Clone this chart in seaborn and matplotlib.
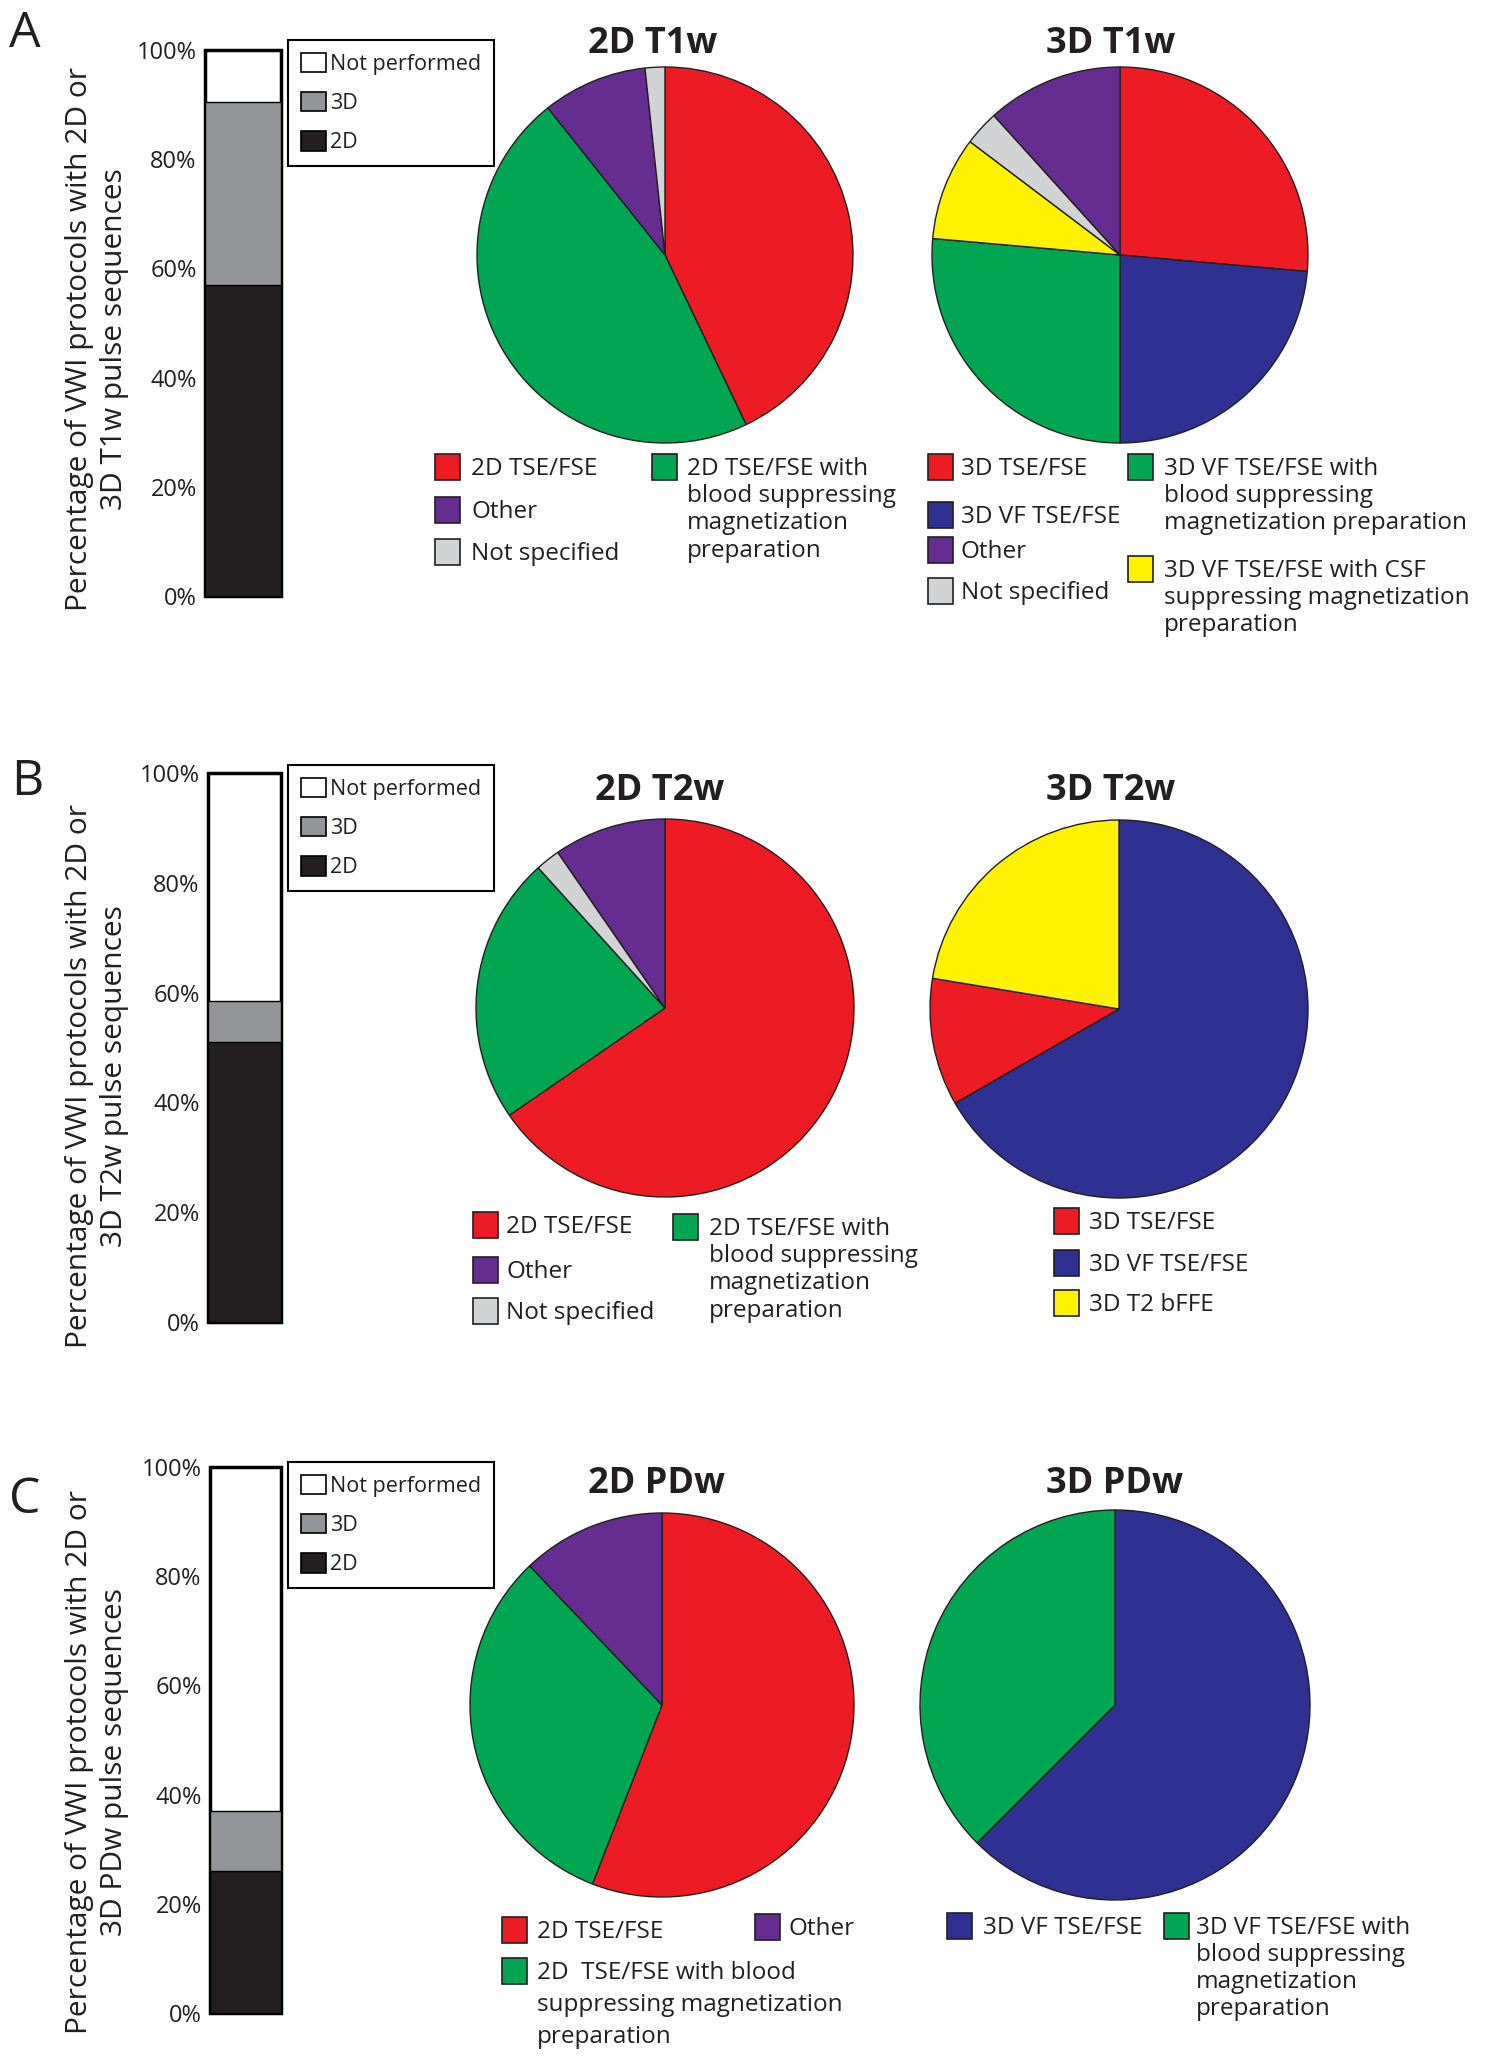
import matplotlib
matplotlib.use('Agg')
import matplotlib.pyplot as plt
from matplotlib.patches import Patch, Rectangle
import pandas as pd
import seaborn as sns

# ---- data (percent) ----
bar_groups = ['2D', '3D', 'Not performed']
bar_t1w = [57.0, 33.5, 9.5]
bar_t2w = [51.0, 7.5, 41.5]
bar_pdw = [26.0, 11.0, 63.0]
bar_ticks = [0, 20, 40, 60, 80, 100]

# pie slices, clockwise from 12 o'clock
pie_2d_t1w_cats = ['2D TSE/FSE', '2D TSE/FSE blood supp.', 'Other', 'Not specified']
pie_2d_t1w = [42.9, 46.4, 9.0, 1.7]
pie_3d_t1w_cats = ['3D TSE/FSE', '3D VF TSE/FSE', '3D VF TSE/FSE blood supp.',
                   '3D VF TSE/FSE CSF supp.', 'Not specified', 'Other']
pie_3d_t1w = [26.4, 23.6, 26.4, 8.9, 3.0, 11.7]
pie_2d_t2w_cats = ['2D TSE/FSE', '2D TSE/FSE blood supp.', 'Not specified', 'Other']
pie_2d_t2w = [65.4, 22.9, 2.1, 9.6]
pie_3d_t2w_cats = ['3D VF TSE/FSE', '3D TSE/FSE', '3D T2 bFFE']
pie_3d_t2w = [66.7, 10.9, 22.4]
pie_2d_pdw_cats = ['2D TSE/FSE', '2D TSE/FSE blood supp.', 'Other']
pie_2d_pdw = [55.9, 32.0, 12.1]
pie_3d_pdw_cats = ['3D VF TSE/FSE', '3D VF TSE/FSE blood supp.']
pie_3d_pdw = [62.5, 37.5]

# ---- colours ----
RED, GREEN, PURPLE = '#ED1C24', '#00A651', '#662D91'
GREY, BLUE, YELLOW = '#D1D3D4', '#2E3192', '#FFF200'
DARK, MID = '#231F20', '#939598'
cat_colors = {
    '2D TSE/FSE': RED, '3D TSE/FSE': RED,
    '2D TSE/FSE blood supp.': GREEN, '3D VF TSE/FSE blood supp.': GREEN,
    'Other': PURPLE, 'Not specified': GREY,
    '3D VF TSE/FSE': BLUE, '3D VF TSE/FSE CSF supp.': YELLOW, '3D T2 bFFE': YELLOW,
}
bar_colors = {'2D': DARK, '3D': MID, 'Not performed': 'white'}

sns.set_style('white')
plt.rcParams['font.family'] = ['Open Sans', 'DejaVu Sans']
plt.rcParams['text.color'] = DARK
plt.rcParams['axes.labelcolor'] = DARK
plt.rcParams['ytick.color'] = DARK

W, H = 1487, 2062
fig = plt.figure(figsize=(W / 100, H / 100), dpi=100)


def px_axes(x0, y0, x1, y1):
    return fig.add_axes([x0 / W, 1 - y1 / H, (x1 - x0) / W, (y1 - y0) / H])


def draw_bar(box, values, ylabel, label_xy, legend_xy):
    ax = px_axes(*box)
    df = pd.DataFrame({'group': bar_groups, 'pct': values})
    df['top'] = df['pct'].cumsum()
    # tallest segment first, lower segments drawn over it
    for _, row in df.iloc[::-1].iterrows():
        lw = 2.5 if row['group'] == 'Not performed' else 1.0
        sns.barplot(x=['all'], y=[row['top']], color=bar_colors[row['group']],
                    saturation=1, width=1, edgecolor='black', linewidth=lw, ax=ax)
    for p in ax.patches:
        p.set_clip_on(False)
    ax.set_xlim(-0.5, 0.5)
    ax.set_ylim(0, 100)
    ax.set_xticks([])
    ax.set_yticks(bar_ticks)
    ax.set_yticklabels([f'{t}%' for t in bar_ticks])
    ax.tick_params(axis='y', length=0, pad=6, labelsize=17)
    sns.despine(ax=ax, left=True, bottom=True)
    ax.set_xlabel('')
    ax.set_ylabel(ylabel, fontsize=21.5, linespacing=1.25, va='center')
    ax.yaxis.set_label_coords(label_xy[0] / W, 1 - label_xy[1] / H, transform=fig.transFigure)
    handles = [Patch(facecolor=bar_colors[g], edgecolor='black', linewidth=1.2)
               for g in bar_groups[::-1]]
    leg = ax.legend(handles, bar_groups[::-1], loc='upper left',
                    bbox_to_anchor=(legend_xy[0] / W, 1 - legend_xy[1] / H),
                    bbox_transform=fig.transFigure, fontsize=15.5, frameon=True,
                    fancybox=False, framealpha=1, edgecolor='black',
                    handlelength=1.15, handleheight=1.0, handletextpad=0.2,
                    borderpad=0.6, labelspacing=0.8, borderaxespad=0)
    leg.get_frame().set_linewidth(1.5)
    return ax


def draw_pie(cx, cy, r, values, cats, title, title_xy):
    s = 1.25 * r
    ax = px_axes(cx - s, cy - s, cx + s, cy + s)
    ax.pie(values, colors=[cat_colors[c] for c in cats], startangle=90,
           counterclock=False, wedgeprops=dict(edgecolor=DARK, linewidth=1))
    ax.set_xlim(-1.25, 1.25)
    ax.set_ylim(-1.25, 1.25)
    fig.text(title_xy[0] / W, 1 - title_xy[1] / H, title, ha='center',
             va='baseline', fontsize=26, fontweight='bold')
    return ax


def key(color, sx, cy, tx, label, ls=1.18):
    fig.patches.append(Rectangle((sx / W, 1 - (cy + 13) / H), 25 / W, 26 / H,
                                 transform=fig.transFigure, facecolor=color,
                                 edgecolor=DARK, linewidth=1.2))
    # top of first line so that its baseline sits just under the key centre
    fig.text(tx / W, 1 - (cy - 10) / H, label, fontsize=17.5, ha='left',
             va='top', linespacing=ls)


# ---------------- Panel A ----------------
fig.text(25 / W, 1 - 47 / H, 'A', fontsize=36, ha='center', va='baseline')
draw_bar((205, 50, 281, 596), bar_t1w,
         'Percentage of VWI protocols with 2D or\n3D T1w pulse sequences',
         (97, 339), (288, 40))
draw_pie(665, 255, 188, pie_2d_t1w, pie_2d_t1w_cats, '2D T1w', (653, 53))
draw_pie(1120, 255, 188, pie_3d_t1w, pie_3d_t1w_cats, '3D T1w', (1111, 53))

key(RED, 435, 467, 471, '2D TSE/FSE')
key(PURPLE, 435, 510, 471, 'Other')
key(GREY, 435, 552, 471, 'Not specified')
key(GREEN, 652, 467, 687, '2D TSE/FSE with\nblood suppressing\nmagnetization\npreparation')

key(RED, 928, 467, 961, '3D TSE/FSE')
key(BLUE, 928, 515, 961, '3D VF TSE/FSE')
key(PURPLE, 928, 550, 961, 'Other')
key(GREY, 928, 591, 961, 'Not specified')
key(GREEN, 1128, 467, 1164, '3D VF TSE/FSE with\nblood suppressing\nmagnetization preparation')
key(YELLOW, 1128, 569, 1164, '3D VF TSE/FSE with CSF\nsuppressing magnetization\npreparation')

# ---------------- Panel B ----------------
fig.text(27 / W, 1 - 795 / H, 'B', fontsize=36, ha='center', va='baseline')
draw_bar((208, 773, 281, 1322), bar_t2w,
         'Percentage of VWI protocols with 2D or\n3D T2w pulse sequences',
         (97, 1076), (288, 765))
draw_pie(665, 1008, 189, pie_2d_t2w, pie_2d_t2w_cats, '2D T2w', (660, 800))
draw_pie(1119, 1009, 189, pie_3d_t2w, pie_3d_t2w_cats, '3D T2w', (1111, 800))

key(RED, 473, 1225, 506, '2D TSE/FSE')
key(PURPLE, 473, 1270, 506, 'Other')
key(GREY, 473, 1311, 506, 'Not specified')
key(GREEN, 673, 1227, 709, '2D TSE/FSE with\nblood suppressing\nmagnetization\npreparation')

key(RED, 1054, 1221, 1089, '3D TSE/FSE')
key(BLUE, 1054, 1263, 1089, '3D VF TSE/FSE')
key(YELLOW, 1054, 1303, 1089, '3D T2 bFFE')

# ---------------- Panel C ----------------
fig.text(25 / W, 1 - 1513 / H, 'C', fontsize=36, ha='center', va='baseline')
draw_bar((210, 1467, 281, 2013), bar_pdw,
         'Percentage of VWI protocols with 2D or\n3D PDw pulse sequences',
         (97, 1762), (288, 1462))
draw_pie(662, 1705, 192, pie_2d_pdw, pie_2d_pdw_cats, '2D PDw', (657, 1493))
draw_pie(1115, 1705, 195, pie_3d_pdw, pie_3d_pdw_cats, '3D PDw', (1115, 1493))

key(RED, 502, 1930, 537, '2D TSE/FSE')
key(PURPLE, 755, 1927, 789, 'Other')
key(GREEN, 502, 1971, 537, '2D  TSE/FSE with blood\nsuppressing magnetization\npreparation', ls=1.44)

key(BLUE, 947, 1926, 983, '3D VF TSE/FSE')
key(GREEN, 1164, 1926, 1196, '3D VF TSE/FSE with\nblood suppressing\nmagnetization\npreparation', ls=1.16)

fig.savefig('out.png', dpi=100)
